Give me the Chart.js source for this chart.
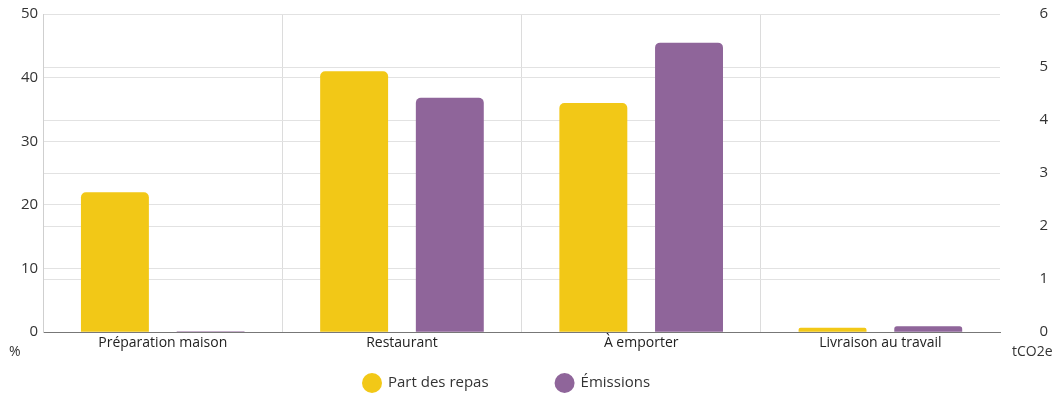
<!DOCTYPE html>
<html>
<head>
<meta charset="utf-8">
<script src="https://cdn.jsdelivr.net/npm/chart.js@4"></script>
<style>
  html, body { margin: 0; padding: 0; background: #fff; }
  #wrap { width: 1058px; height: 394px; }
</style>
</head>
<body>
<div id="wrap"><canvas id="chart"></canvas></div>
<script>
// Data
const categories = ['Préparation maison', 'Restaurant', 'À emporter', 'Livraison au travail'];
const partDesRepas = [22, 41, 36, 0.7];     // %, left axis
const emissions = [0.02, 4.42, 5.46, 0.11];  // tCO2e, right axis

const YELLOW = 'rgb(242, 200, 23)';
const PURPLE = 'rgb(143, 101, 154)';
const FONT = '"Open Sans", "Noto Sans", sans-serif';

// Unit labels under each y axis + the legend row (wider item spacing than the built-in legend)
const extras = {
    id: 'extras',
    afterDraw(chart) {
        const { ctx, chartArea } = chart;
        ctx.save();
        ctx.font = '14px ' + FONT;
        ctx.fillStyle = '#333';
        ctx.textBaseline = 'middle';
        ctx.textAlign = 'left';
        ctx.fillText('%', 9, chartArea.bottom + 20);
        ctx.fillText('tCO2e', 1012, chartArea.bottom + 20);

        // legend
        ctx.font = '15px ' + FONT;
        let x = 362;
        const y = 383;
        chart.data.datasets.forEach(ds => {
            ctx.fillStyle = ds.backgroundColor;
            ctx.beginPath();
            ctx.arc(x + 10, y, 10, 0, Math.PI * 2);
            ctx.fill();
            ctx.fillStyle = '#333';
            ctx.fillText(ds.label, x + 26, y);
            x += 26 + ctx.measureText(ds.label).width + 66;
        });
        ctx.restore();
    }
};

new Chart(document.getElementById('chart'), {
    type: 'bar',
    data: {
        labels: categories,
        datasets: [{
            label: 'Part des repas',
            data: partDesRepas,
            backgroundColor: YELLOW,
            yAxisID: 'y',
            borderRadius: 5,
            borderSkipped: 'bottom',
            categoryPercentage: 0.8,
            barPercentage: 0.71
        }, {
            label: 'Émissions',
            data: emissions,
            backgroundColor: PURPLE,
            yAxisID: 'y1',
            borderRadius: 5,
            borderSkipped: 'bottom',
            categoryPercentage: 0.8,
            barPercentage: 0.71
        }]
    },
    options: {
        responsive: true,
        maintainAspectRatio: false,
        animation: false,
        layout: { padding: { left: 16, right: 10, top: 6, bottom: 41 } },
        plugins: {
            legend: { display: false },
            tooltip: { enabled: false }
        },
        scales: {
            x: {
                grid: {
                    offset: true,
                    color: ctx => (ctx.index === 0 || ctx.index === undefined) ? 'rgba(0,0,0,0)' : '#dcdcdc',
                    drawTicks: false
                },
                border: { color: '#777', width: 1 },
                ticks: { color: '#222', padding: 2, font: { family: FONT, size: 14 } }
            },
            y: {
                position: 'left',
                min: 0,
                max: 50,
                ticks: { stepSize: 10, color: '#333', padding: 5, font: { family: FONT, size: 15 } },
                grid: { color: '#e2e2e2', drawTicks: false },
                border: { color: '#cfcfcf' }
            },
            y1: {
                position: 'right',
                min: 0,
                max: 6,
                afterFit: scale => { scale.width = 48; },
                ticks: { stepSize: 1, color: '#333', padding: 0, crossAlign: 'far', font: { family: FONT, size: 15 } },
                grid: { color: '#e2e2e2', drawTicks: false },
                border: { display: false }
            }
        }
    },
    plugins: [extras]
});
</script>
</body>
</html>
